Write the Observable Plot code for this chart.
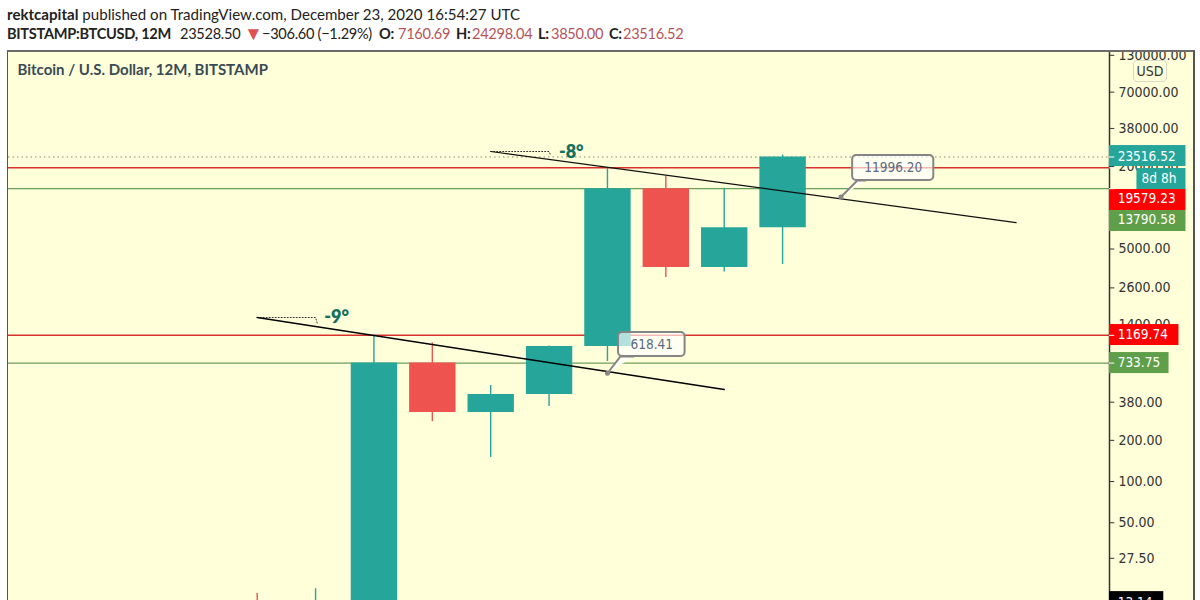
<!DOCTYPE html>
<html><head><meta charset="utf-8">
<script src="https://cdn.jsdelivr.net/npm/d3@7"></script>
<script src="https://cdn.jsdelivr.net/npm/@observablehq/plot@0.6"></script>
<style>
html,body{margin:0;padding:0;background:#fff;overflow:hidden}
#page{position:relative;width:1200px;height:600px;overflow:hidden;font-family:Lato,sans-serif;color:#222}
.hd{position:absolute;white-space:pre;font-size:15.1px;line-height:18px}
.l2{top:25px;font-size:14.6px;letter-spacing:-0.3px}
.hd b{font-weight:700}
#chart{position:absolute;left:7px;top:50px;width:1185px;height:550px;border-left:1px solid #555;border-top:2px solid #6b6b6b;border-right:2px solid #555;background:#ffffd9;overflow:hidden}
#chart svg{display:block}
#usd{position:absolute;left:1133px;top:60px;width:32px;height:20px;border:1px solid #d8d8c4;border-radius:4px;background:#ffffd9;font:14px "DejaVu Sans Condensed","DejaVu Sans";color:#333;text-align:center;line-height:20px}
.r{color:#b4555a}
</style></head><body>
<div id="page">
<div class="hd" style="top:5px;left:7px"><b>rektcapital</b> published on TradingView.com, December 23, 2020 16:54:27 UTC</div>
<div class="hd l2" style="left:7px"><b>BITSTAMP:BTCUSD, 12M</b></div>
<div class="hd l2" style="left:180px">23528.50</div>
<div class="hd l2" style="left:244px;top:24px;color:#e05050;font-size:19px">▼</div>
<div class="hd l2" style="left:262px">−306.60 (−1.29%)</div>
<div class="hd l2" style="left:379px"><b>O:</b></div>
<div class="hd l2 r" style="left:398px">7160.69</div>
<div class="hd l2" style="left:456px"><b>H:</b></div>
<div class="hd l2 r" style="left:472px">24298.04</div>
<div class="hd l2" style="left:538px"><b>L:</b></div>
<div class="hd l2 r" style="left:551px">3850.00</div>
<div class="hd l2" style="left:609px"><b>C:</b></div>
<div class="hd l2 r" style="left:623px">23516.52</div>
<div id="chart"></div>
<div id="usd">USD</div>
</div>
<script>
// Yearly candles
const years  = [2011, 2012, 2013, 2014, 2015, 2016, 2017, 2018, 2019, 2020];
const opens  = [12, 4.58, 13.14, 733.75, 319, 432, 969, 13790.58, 3660, 7160.69];
const closes = [4.58, 13.14, 733.75, 319, 432, 969, 13790.58, 3660, 7160.69, 23516.52];
const highs  = [15.2, 16.5, 1169.74, 1030, 503, 980, 19579.23, 16900, 13880, 24298.04];
const lows   = [2.2, 4, 13, 274, 150, 353, 753, 3095, 3400, 3850];

// Price axis
const axisTicks = [130000, 70000, 38000, 20000, 10000, 5000, 2600, 1400, 740, 380, 200, 100, 50, 27.5];

// Horizontal levels
const redLevels = [19579.23, 1169.74];
const greenLevels = [13790.58, 733.75];
const dottedLevel = [23516.52];

// Trend lines: [year, price]
const trendA = [[2011, 1580], [2019, 470]];
const trendB = [[2015, 25780], [2024, 7800]];
const angleA = [[2011, 1580], [2012, 1580], [2012.03, 1427]];
const angleB = [[2015, 25780], [2016, 25780], [2016.03, 24100]];
const angleLabels = [[2012.36, 1580, "-9°"], [2016.38, 25400, "-8°"]];

// Callouts
const calloutBoxes = [
  {x1: 2017.19, x2: 2018.33, y1: 819, y2: 1227, label: "618.41", price: 618.41, tipYear: 2017},
  {x1: 2021.2, x2: 2022.59, y1: 15830, y2: 24100, label: "11996.20", price: 11996.20, tipYear: 2021}
];
const pointerA = [[2017, 618.41], [2017.22, 819], [2017.45, 819]];
const pointerB = [[2021, 11996.2], [2021.28, 15830], [2021.42, 15830]];

// Price tags on the scale
const tagX0 = 2025.6;
const tags = [
  {label: "23516.52", y1: 20030, y2: 28500, x2: 2026.91, fill: "#26a69a", x: 2025.74, textY: 23600},
  {label: "8d 8h", y1: 13600, y2: 19360, x1: 2026.07, x2: 2026.91, fill: "#26a69a", x: 2026.15, textY: 16200},
  {label: "19579.23", y1: 9550, y2: 13600, x2: 2026.91, fill: "#ff0000", x: 2025.74, textY: 11600},
  {label: "13790.58", y1: 6710, y2: 9550, x2: 2026.91, fill: "#5f9f4a", x: 2025.74, textY: 8150},
  {label: "1169.74", y1: 986, y2: 1403, x2: 2026.79, fill: "#ff0000", x: 2025.74, textY: 1176},
  {label: "733.75", y1: 615, y2: 876, x2: 2026.62, fill: "#5f9f4a", x: 2025.74, textY: 734},
  {label: "13.14", y1: 13.52, y2: 15.7, x2: 2026.53, fill: "#000000", x: 2025.74, textY: 13.14}
];
const tagPrices = [23516.52, 19579.23, 13790.58, 1169.74, 733.75];

const candles = years.map((year, i) => ({year, open: opens[i], close: closes[i], high: highs[i], low: lows[i],
  color: closes[i] >= opens[i] ? "#26a69a" : "#ef5350"}));
const fontAxis = '"DejaVu Sans Condensed","DejaVu Sans",sans-serif';

const plot = Plot.plot({
  width: 1185, height: 548,
  marginLeft: 0, marginRight: 84, marginTop: 0, marginBottom: 0,
  style: {background: "transparent", overflow: "hidden", fontFamily: fontAxis, fontSize: "14px"},
  x: {type: "linear", domain: [2006.74, 2025.6], axis: null},
  y: {type: "log", domain: [13.52, 136350], axis: null},
  marks: [
    Plot.ruleY(dottedLevel, {x1: 2006.74, x2: 2025.6, stroke: "#8a8a7a", strokeDasharray: "1.5,3", strokeWidth: 1}),
    Plot.ruleY(redLevels, {x1: 2006.74, x2: 2025.6, stroke: "#d8302b", strokeWidth: 1.5}),
    Plot.ruleY(greenLevels, {x1: 2006.74, x2: 2025.6, stroke: "#6e9e5c", strokeWidth: 1.3}),
    Plot.ruleX(candles, {x: "year", y1: "low", y2: "high", stroke: "color", strokeWidth: 1.4, clip: true}),
    Plot.ruleX(candles, {x: "year", y1: "open", y2: "close", stroke: "color", strokeWidth: 46.4, clip: true}),
    Plot.line(angleA, {x: d => d[0], y: d => d[1], stroke: "#333", strokeDasharray: "1,2", strokeWidth: 1}),
    Plot.line(angleB, {x: d => d[0], y: d => d[1], stroke: "#333", strokeDasharray: "1,2", strokeWidth: 1}),
    Plot.line(trendA, {x: d => d[0], y: d => d[1], stroke: "#000", strokeWidth: 1.5}),
    Plot.line(trendB, {x: d => d[0], y: d => d[1], stroke: "#111", strokeWidth: 1.2}),
    Plot.text(angleLabels, {x: d => d[0], y: d => d[1], text: d => d[2], fill: "#12705f", fontWeight: 800, fontSize: 18, fontFamily: "Lato,sans-serif"}),
    Plot.line(pointerA, {x: d => d[0], y: d => d[1], stroke: "#858585", strokeWidth: 2, fill: "#fffff5"}),
    Plot.line(pointerB, {x: d => d[0], y: d => d[1], stroke: "#858585", strokeWidth: 2, fill: "#fffff5"}),
    Plot.rect(calloutBoxes, {x1: "x1", x2: "x2", y1: "y1", y2: "y2", fill: "#ffffff", fillOpacity: 0.65, stroke: "#858585", strokeWidth: 2, rx: 4}),
    Plot.dot(calloutBoxes, {x: "tipYear", y: "price", r: 2.5, fill: "#858585"}),
    Plot.text(calloutBoxes, {x: d => (d.x1 + d.x2) / 2, y: d => Math.sqrt(d.y1 * d.y2), text: "label", fill: "#5a6a80", fontSize: 13.5}),
    Plot.ruleY(axisTicks, {x1: 2025.6, x2: 2025.69, stroke: "#333", strokeWidth: 1}),
    Plot.text(axisTicks, {x: 2025.6, y: d => d, text: d => d.toFixed(2), dx: 9, textAnchor: "start", fill: "#333"}),
    Plot.ruleX([2025.6], {stroke: "#333", strokeWidth: 1.5}),
    Plot.rect(tags, {x1: d => d.x1 ?? tagX0, x2: "x2", y1: "y1", y2: "y2", fill: "fill"}),
    Plot.ruleY(tagPrices, {x1: 2025.6, x2: 2025.69, stroke: "#fff", strokeWidth: 1}),
    Plot.text(tags, {x: "x", y: "textY", text: "label", fill: "#fff", textAnchor: "start", fontSize: 13.5}),
    Plot.text(["Bitcoin / U.S. Dollar, 12M, BITSTAMP"], {frameAnchor: "top-left", dx: 9, dy: 12, fill: "#3a4a55", fontWeight: 700, fontSize: 15, fontFamily: "Lato,sans-serif"})
  ]
});
document.getElementById("chart").append(plot);
</script>
</body></html>
